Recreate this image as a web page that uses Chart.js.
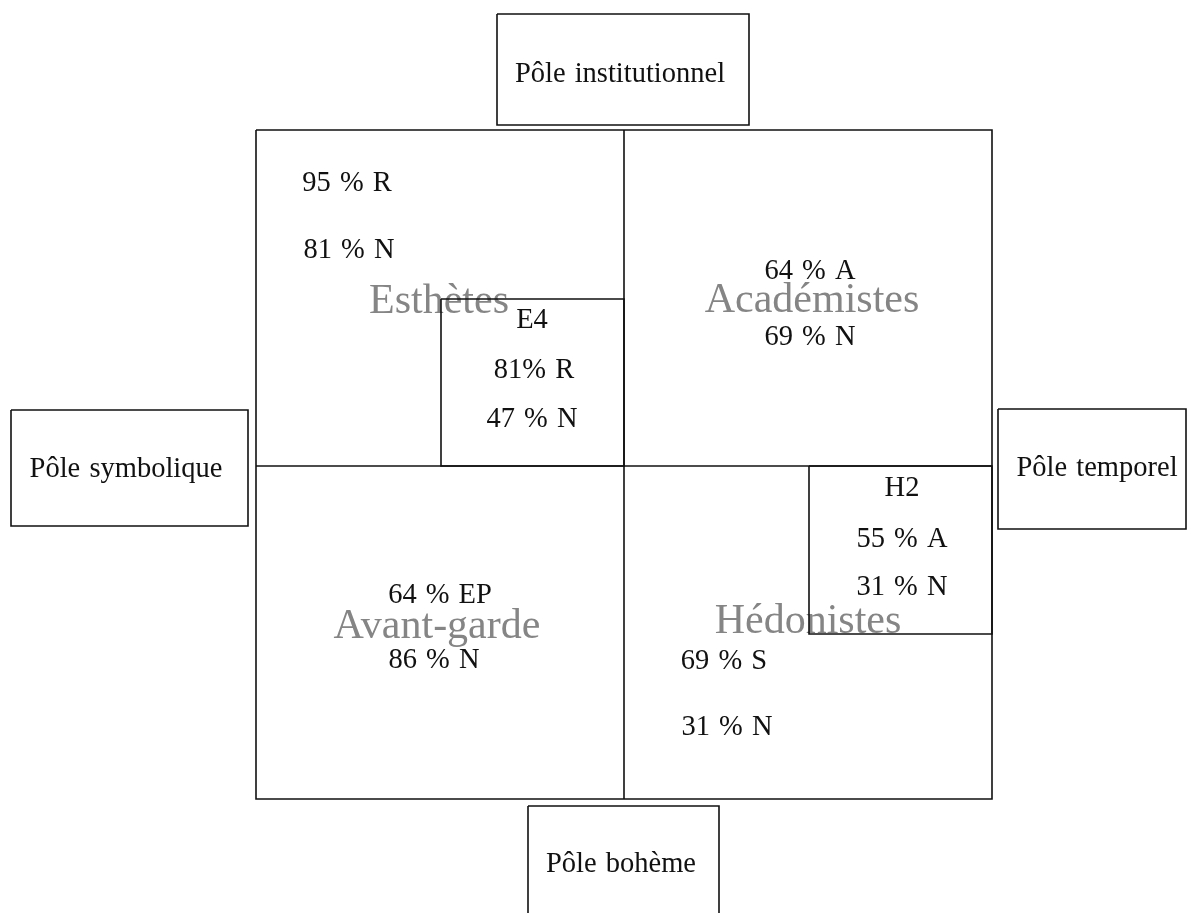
<!DOCTYPE html>
<html>
<head>
<meta charset="utf-8">
<title>Pôles</title>
<script src="https://cdn.jsdelivr.net/npm/chart.js@4/dist/chart.umd.min.js"></script>
<style>
  html, body { margin: 0; padding: 0; background: #fff; }
  #wrap { width: 1187px; height: 913px; }
</style>
</head>
<body>
<div id="wrap"><canvas id="diagram" width="1187" height="913"></canvas></div>
<script>
// Diagram data (page units, y grows downwards)
const boxNames = ['institutionnel', 'symbolique', 'temporel', 'boheme', 'carre', 'E4', 'H2'];
const boxCorners = [
    [497, 14, 749, 125],
    [11, 410, 248, 526],
    [998, 409, 1186, 529],
    [528, 806, 719, 925],
    [256, 130, 992, 799],
    [441, 299, 624, 466],
    [809, 466, 992, 634]
];
const axisLines = [
    [[624, 130], [624, 799]],
    [[256, 466], [992, 466]]
];

const blackTexts = ['Pôle institutionnel', 'Pôle symbolique', 'Pôle temporel', 'Pôle bohème',
    '95 % R', '81 % N', 'E4', '81% R', '47 % N',
    '64 % A', '69 % N', 'H2', '55 % A', '31 % N',
    '64 % EP', '86 % N', '69 % S', '31 % N'];
const blackPos = [[620, 75], [126, 470], [1097, 469], [621, 865],
    [347, 184], [349, 251], [532, 321], [534, 371], [532, 420],
    [810, 272], [810, 338], [902, 489], [902, 540], [902, 588],
    [440, 596], [434, 661], [724, 662], [727, 728]];

const groupNames = ['Esthètes', 'Académistes', 'Avant-garde', 'Hédonistes'];
const groupPos = [[439, 302], [812, 301], [437, 627], [808, 622]];

const SERIF = "'Liberation Serif', 'Times New Roman', serif";

const lineSets = [];
boxCorners.forEach((b, i) => {
    lineSets.push({
        label: boxNames[i],
        data: [{x: b[0], y: b[1]}, {x: b[2], y: b[1]}, {x: b[2], y: b[3]}, {x: b[0], y: b[3]}, {x: b[0], y: b[1]}],
        showLine: true, borderColor: '#111', borderWidth: 1.6, pointRadius: 0, clip: false
    });
});
axisLines.forEach((l, i) => {
    lineSets.push({
        label: 'axe' + i,
        data: l.map(p => ({x: p[0], y: p[1]})),
        showLine: true, borderColor: '#111', borderWidth: 1.6, pointRadius: 0, clip: false
    });
});

// Labels drawn at positions converted by the scales
const textPlugin = {
    id: 'textPlugin',
    beforeDatasetsDraw(chart) {
        const {ctx, scales: {x, y}} = chart;
        ctx.save();
        ctx.font = '42px ' + SERIF;
        ctx.fillStyle = '#858585';
        ctx.textAlign = 'center';
        ctx.textBaseline = 'middle';
        groupNames.forEach((t, i) => {
            ctx.fillText(t, x.getPixelForValue(groupPos[i][0]), y.getPixelForValue(groupPos[i][1]));
        });
        ctx.restore();
    },
    afterDatasetsDraw(chart) {
        const {ctx, scales: {x, y}} = chart;
        ctx.save();
        ctx.font = '28.5px ' + SERIF;
        ctx.wordSpacing = '2px';
        ctx.fillStyle = '#111';
        ctx.textAlign = 'center';
        ctx.textBaseline = 'middle';
        blackTexts.forEach((t, i) => {
            ctx.fillText(t, x.getPixelForValue(blackPos[i][0]), y.getPixelForValue(blackPos[i][1]));
        });
        ctx.restore();
    }
};

new Chart(document.getElementById('diagram'), {
    type: 'scatter',
    data: { datasets: lineSets },
    options: {
        responsive: false,
        animation: false,
        layout: { padding: 0 },
        plugins: { legend: { display: false }, tooltip: { enabled: false } },
        scales: {
            x: { type: 'linear', min: 0, max: 1187, display: false },
            y: { type: 'linear', min: 0, max: 913, reverse: true, display: false }
        }
    },
    plugins: [textPlugin]
});
</script>
</body>
</html>
